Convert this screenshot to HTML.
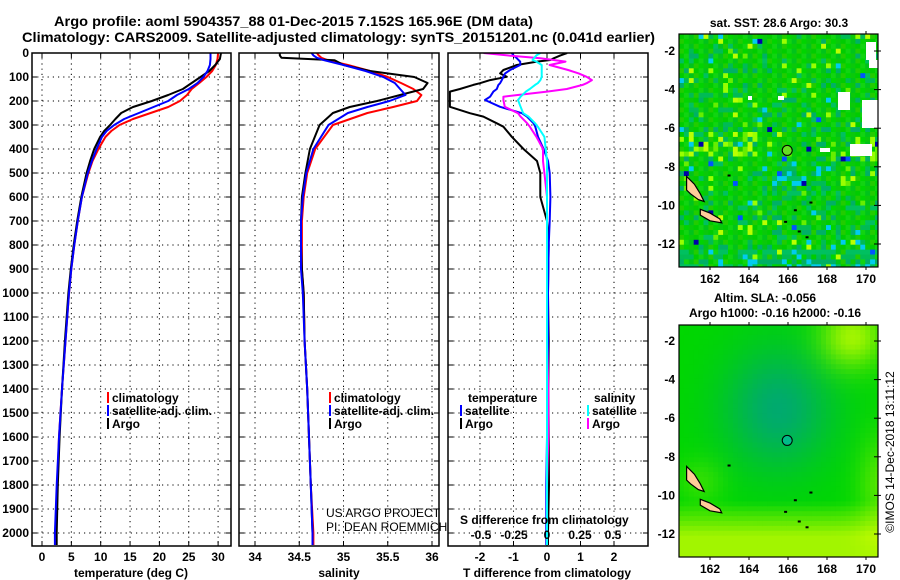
<!DOCTYPE html>
<html><head><meta charset="utf-8"><style>
html,body{margin:0;padding:0;background:#fff;}
svg{display:block;font-family:"Liberation Sans",sans-serif;}
.b{font-weight:bold;font-size:12px;}
</style></head><body>
<svg id="c" width="900" height="580" viewBox="0 0 900 580" xmlns="http://www.w3.org/2000/svg">
<text x="54" y="26" font-size="14" font-weight="bold" textLength="479" lengthAdjust="spacingAndGlyphs">Argo profile: aoml 5904357_88 01-Dec-2015 7.152S 165.96E (DM data)</text>
<text x="22" y="42" font-size="14" font-weight="bold" textLength="633" lengthAdjust="spacingAndGlyphs">Climatology: CARS2009. Satellite-adjusted climatology: synTS_20151201.nc (0.041d earlier)</text>
<g id="plots"></g>
</svg>
<script>
// ---- data ----
const depths = [0,25,50,75,100,125,150,175,200,225,250,275,300,325,350,400,450,500,600,700,800,900,1000,1200,1400,1600,1800,2000,2050];
const tempClim = [30,29.9,29.6,29,28,26.8,25.5,24.7,23.5,21.5,18.5,15.5,13.2,11.8,10.8,9.6,8.6,7.9,6.8,6.1,5.5,5.0,4.6,4.0,3.4,2.9,2.6,2.3,2.3];
const tempSat  = [28.7,28.7,28.6,28.2,27.5,26.5,25,23,21.5,19,16.5,14,12.3,11,10.2,9.3,8.5,7.8,6.8,6.1,5.5,5.0,4.6,4.0,3.4,2.9,2.5,2.2,2.2];
const tempArgo = [30.5,30.3,29.5,28.5,27,25.5,24,21.5,18.7,15.5,13.5,12.5,11.6,10.6,9.9,8.9,8.2,7.6,6.7,6,5.4,4.9,4.5,3.9,3.4,3.0,2.7,2.5,2.5];
const salDepths = [0,10,20,30,50,75,100,125,150,175,200,225,250,300,400,500,600,700,800,900,1000,1200,1400,1600,1800,2000,2050];
const salClim = [34.70,34.72,34.75,34.82,35.05,35.3,35.5,35.65,35.79,35.88,35.83,35.56,35.27,34.88,34.68,34.59,34.55,34.53,34.53,34.53,34.55,34.56,34.59,34.61,34.63,34.66,34.66];
const salSat  = [34.64,34.66,34.7,34.78,35.0,35.25,35.45,35.58,35.64,35.7,35.52,35.27,35.05,34.83,34.66,34.58,34.54,34.52,34.52,34.52,34.54,34.56,34.59,34.61,34.63,34.65,34.65];
const salArgo = [34.28,34.28,34.3,34.9,35.0,35.3,35.8,35.95,35.9,35.64,35.38,35.07,34.88,34.73,34.62,34.57,34.53,34.52,34.52,34.53,34.55,34.56,34.59,34.61,34.63,34.65,34.65];
const diffDepths = [0,10,22,29,36,50,71,85,99,113,126,133,150,161,182,196,224,251,265,293,307,349,400,450,500,600,700,800,1000,1200,1400,1600,1800,2000,2050];
const tdiffArgo = [0.6,0.4,0.2,0.1,-0.3,-0.9,-1.3,-1.4,-1.2,-1.7,-2,-2.2,-2.6,-2.9,-2.9,-2.9,-2.9,-2.3,-1.9,-1.5,-1.3,-1.05,-0.7,-0.3,-0.2,-0.2,0,0.05,0.03,0.05,0.04,0.05,0.06,0.03,0.03];
const tdiffSat  = [-1.05,-1.0,-0.9,-0.85,-0.8,-0.8,-1.1,-1.25,-1.3,-1.35,-1.4,-1.45,-1.5,-1.6,-1.7,-1.85,-1.4,-0.75,-0.6,-0.4,-0.35,-0.27,-0.1,0.03,0.08,0.1,0.08,0.05,0.03,0.03,0.02,0.0,-0.02,-0.02,-0.02];
const sdiffSat  = [-0.05,-0.08,-0.1,-0.11,-0.08,-0.04,-0.04,-0.04,-0.04,-0.05,-0.07,-0.09,-0.13,-0.16,-0.2,-0.22,-0.2,-0.18,-0.14,-0.09,-0.07,-0.02,-0.01,0,0,0,0,0,0,0,0,0,0,0,0];
const sdiffArgo = [-0.48,-0.3,-0.05,0.05,0.14,0.02,0.16,0.24,0.3,0.34,0.3,0.27,0.15,0.0,-0.33,-0.33,-0.32,-0.22,-0.2,-0.15,-0.13,-0.08,-0.03,-0.03,-0.02,0,0,0,0,0,0.01,0.01,0,0,0];
const depthTicks = [0,100,200,300,400,500,600,700,800,900,1000,1100,1200,1300,1400,1500,1600,1700,1800,1900,2000];
const tempTicks = [0,5,10,15,20,25,30];
const salTicks = [34,34.5,35,35.5,36];
const tdiffTicks = [-2,-1,0,1,2];
const sdiffTicks = [-0.5,-0.25,0,0.25,0.5];
const lonTicks = [162,164,166,168,170];
const latTicks = [-2,-4,-6,-8,-10,-12];
const floatLon = 165.96, floatLat = -7.152;

// ---- scales ----
const TOP=53, BOT=546;
const yD = d => TOP + d*0.24;
const xT = t => 42 + t*5.87;
const xS = s => 255 + (s-34)*88.5;
const xTD = v => 547 + v*33.5;
const xSD = v => 547 + v*132;
const xLon = lon => 710 + (lon-162)*19.5;
const yLat1 = lat => 51 + (-2-lat)*19.3;
const yLat2 = lat => 341 + (-2-lat)*19.3;

const NS="http://www.w3.org/2000/svg";
const root=document.getElementById('plots');
function mk(tag, attrs, parent){const e=document.createElementNS(NS,tag);for(const k in attrs)e.setAttribute(k,attrs[k]);(parent||root).appendChild(e);return e;}
function txt(x,y,s,cls,anchor,parent){const e=mk('text',{x:x,y:y,'class':cls||'b','text-anchor':anchor||'start'},parent);e.textContent=s;return e;}

function panel(name,x0,x1,xticks,xf,gridV){
  const g=mk('g',{});
  
  
  depthTicks.forEach(d=>{mk('line',{x1:x0,x2:x1,y1:yD(d),y2:yD(d),stroke:'#000','stroke-dasharray':'1.2 4','stroke-width':1},g);
    mk('line',{x1:x0,x2:x0+5,y1:yD(d),y2:yD(d),stroke:'#000'},g);mk('line',{x1:x1-5,x2:x1,y1:yD(d),y2:yD(d),stroke:'#000'},g);});
  gridV.forEach(v=>{const x=xf(v);mk('line',{x1:x,x2:x,y1:TOP,y2:BOT,stroke:'#000','stroke-dasharray':'1.2 4'},g);
    mk('line',{x1:x,x2:x,y1:BOT-5,y2:BOT,stroke:'#000'},g);mk('line',{x1:x,x2:x,y1:TOP,y2:TOP+5,stroke:'#000'},g);});
  return g;
}
function line(g,name,xs,ds,xf,color,w){
  const p=xs.map((v,i)=>xf(v).toFixed(1)+','+yD(ds[i]).toFixed(1)).join(' ');
  const e=mk('polyline',{points:p,fill:'none',stroke:color,'stroke-width':w||2,'stroke-linejoin':'round','clip-path':'url(#'+g.getAttribute('data-clip')+')'},g);
  
  
}
const defs=mk('defs',{});
[['cp1',32,231],['cp2',239,439],['cp3',448,648]].forEach(c=>{const cp=mk('clipPath',{id:c[0]},defs);mk('rect',{x:c[1],y:TOP,width:c[2]-c[1],height:BOT-TOP},cp);});

// panel 1
const p1=panel('temperature-panel',32,231,tempTicks,xT,tempTicks);p1.setAttribute('data-clip','cp1');
line(p1,'temp-climatology-line',tempClim,depths,xT,'#f00');
line(p1,'temp-argo-line',tempArgo,depths,xT,'#000');
line(p1,'temp-satellite-line',tempSat,depths,xT,'#00f');
mk('rect',{x:32,y:TOP,width:199,height:BOT-TOP,fill:'none',stroke:'#000','stroke-width':1.5},p1);
depthTicks.forEach(d=>txt(29,yD(d)+4,String(d),'b','end'));
tempTicks.forEach(t=>txt(xT(t),561,String(t),'b','middle'));
txt(131,577,'temperature (deg C)','b','middle');
// panel 2
const p2=panel('salinity-panel',239,439,salTicks,xS,salTicks);p2.setAttribute('data-clip','cp2');
line(p2,'sal-climatology-line',salClim,salDepths,xS,'#f00');
line(p2,'sal-argo-line',salArgo,salDepths,xS,'#000');
line(p2,'sal-satellite-line',salSat,salDepths,xS,'#00f');
mk('rect',{x:239,y:TOP,width:200,height:BOT-TOP,fill:'none',stroke:'#000','stroke-width':1.5},p2);
salTicks.forEach(t=>txt(xS(t),561,String(t),'b','middle'));
txt(339,577,'salinity','b','middle');
// panel 3
const p3=panel('difference-panel',448,648,tdiffTicks,xTD,tdiffTicks);p3.setAttribute('data-clip','cp3');
line(p3,'tdiff-argo-line',tdiffArgo,diffDepths,xTD,'#000');
line(p3,'tdiff-satellite-line',tdiffSat,diffDepths,xTD,'#00f');
line(p3,'sdiff-argo-line',sdiffArgo,diffDepths,xSD,'#f0f');
line(p3,'sdiff-satellite-line',sdiffSat,diffDepths,xSD,'#0ff');
mk('rect',{x:448,y:TOP,width:200,height:BOT-TOP,fill:'none',stroke:'#000','stroke-width':1.5},p3);
tdiffTicks.forEach(t=>txt(xTD(t),561,String(t),'b','middle'));
sdiffTicks.forEach(t=>txt(xSD(t),539,String(t),'b','middle'));
txt(547,577,'T difference from climatology','b','middle');
txt(460,524,'S difference from climatology','b');

// legends
function leg(x,y,c,label,name){const g=mk('g',{});
  mk('rect',{x:x,y:y-10,width:2,height:11,fill:c},g);txt(x+5,y,label,'b','start',g);}
leg(107,402,'#f00','climatology','legend-climatology');
leg(107,415,'#00f','satellite-adj. clim.','legend-satellite-adj');
leg(107,428,'#000','Argo','legend-argo');
leg(329,402,'#f00','climatology','legend2-climatology');
leg(329,415,'#00f','satellite-adj. clim.','legend2-satellite-adj');
leg(329,428,'#000','Argo','legend2-argo');
txt(468,402,'temperature');txt(594,402,'salinity');
leg(460,415,'#00f','satellite','legend-t-satellite');
leg(460,428,'#000','Argo','legend-t-argo');
leg(587,415,'#0ff','satellite','legend-s-satellite');
leg(587,428,'#f0f','Argo','legend-s-argo');
const us=txt(326,517,'US ARGO PROJECT','b');us.setAttribute('style','font-weight:normal;font-size:12px');
const pi=txt(326,531,'PI: DEAN ROEMMICH','b');pi.setAttribute('style','font-weight:normal;font-size:12px');

// ---- maps ----
function hash(i,j,s){let h=(i*374761393+j*668265263+s*982451653)|0;h=(h^(h>>>13))*1274126177|0;h=h^(h>>>16);return ((h>>>0)%10000)/10000;}
function mapPanel(name,y0,y1,yLat,sst){
  const g=mk('g',{});
  const cid='clip'+name;const cp=mk('clipPath',{id:cid},defs);mk('rect',{x:679,y:y0,width:199,height:y1-y0},cp);
  const cells=mk('g',{'clip-path':'url(#'+cid+')'},g);
  const cs=4.9;
  for(let i=0;i<41;i++)for(let j=0;j<48;j++){
    const x=679+i*cs,y=y0+j*cs;const lon=162+(x+cs/2-710)/19.5,lat=-2-(y+cs/2-(yLat(-2)))/19.3;
    let col;
    if(sst){
      const r=hash(i,j,1);let teal=0;
      if(lat<-7.6&&lat>-9.4&&lon>164.8&&lon<168.5)teal+=0.25;
      if(lat<-12.3)teal+=0.4; if(lat<-10&&lon>167)teal+=0.12;
      let yel=0; if(lat>-7.4&&lat<-6&&lon<164.5)yel+=0.3; if(lat>-7.7&&lat<-6.8&&lon>167.5)yel+=0.35; if(lat>-5&&lat<-3&&lon<164&&lon>162.5)yel+=0.12;
      if(r<0.005)col='#0000aa';else if(r<0.012)col='#0055ff';else if(r<0.025+teal*0.25)col='#00ccee';
      else if(r<0.17+teal)col=['#00bb55','#00b066','#00c060'][j%3];
      else if(r<0.21+teal+yel)col=['#99ff00','#66ee00','#bbff00'][i%3];
      else col=['#00cc00','#11d411','#00c41a','#22cc00','#00d400','#0ac80a'][(i*7+j*3)%6];
    }else{
      const a=Math.exp(-(((lon-165.5)/2.8)**2+((lat+5.5)/3.2)**2));
      const yb=Math.exp(-(((lon-169.3)/1.6)**2+((lat+1.8)/1.6)**2))*0.85+Math.min(1,Math.max(0,(-lat-10.3)/1.8))*0.85+Math.exp(-(((lon-170.8)/1.2)**2+((lat+9.5)/2.5)**2))*0.45+Math.exp(-(((lon-161.5)/1.2)**2+((lat+9.3)/1.2)**2))*0.25;
      const t=Math.min(1,Math.max(0,yb));
      const tt=a*(1-t);
      const r=Math.round(t*190),gg=Math.round(215+t*35-tt*45),b=Math.round(tt*110);
      col='rgb('+r+','+gg+','+b+')';
    }
    mk('rect',{x:x.toFixed(1),y:y.toFixed(1),width:cs+0.5,height:cs+0.5,fill:col},cells);
  }
  if(sst){[[866,42,10,18],[869,60,10,8],[838,92,12,18],[862,100,16,28],[850,144,22,12],[820,148,10,4],[778,96,6,4],[748,96,4,4]].forEach(w=>mk('rect',{x:w[0],y:y0-34+w[1],width:w[2],height:w[3],fill:'#fff'},cells));}
  // islands
  const isl=[[[160.8,-8.5],[161.2,-8.9],[161.5,-9.4],[161.7,-9.8],[161.4,-9.7],[161,-9.4],[160.8,-9.2]],[[161.5,-10.2],[162,-10.4],[162.5,-10.7],[162.6,-10.9],[162,-10.8],[161.5,-10.5]]];
  isl.forEach((pts,k)=>{const e=mk('polygon',{points:pts.map(p=>xLon(p[0]).toFixed(1)+','+yLat(p[1]).toFixed(1)).join(' '),fill:'#ffcc99',stroke:'#000','stroke-width':1.2},cells);
    });
  [[165.8,-10.8],[166.9,-11.6],[162.9,-8.4],[167.1,-9.8],[166.3,-10.2],[166.5,-11.3]].forEach(p=>mk('rect',{x:xLon(p[0]),y:yLat(p[1]),width:3,height:2,fill:'#000'},cells));
  const fl=mk('circle',{cx:xLon(floatLon),cy:yLat(floatLat),r:5,fill:sst?'#66dd22':'#00bb88',stroke:'#000','stroke-width':1},g);
  
  
  mk('rect',{x:679,y:y0,width:199,height:y1-y0,fill:'none',stroke:'#000','stroke-width':1.2},g);
  latTicks.forEach(l=>{const y=yLat(l);mk('line',{x1:874,x2:881,y1:y,y2:y,stroke:'#000'},g);txt(675,y+4,String(l),'b','end',g);});
  lonTicks.forEach(l=>{const x=xLon(l);mk('line',{x1:x,x2:x,y1:y0-3,y2:y0,stroke:'#000'},g);mk('line',{x1:x,x2:x,y1:y1,y2:y1+3,stroke:'#000'},g);txt(x,y1+16,String(l),'b','middle',g);});
}
mapPanel('sst-map',34,267,yLat1,true);
mapPanel('sla-map',325,557,yLat2,false);
txt(779,27,'sat. SST: 28.6 Argo: 30.3','b','middle');
txt(765,302,'Altim. SLA: -0.056','b','middle');
txt(775,317,'Argo h1000: -0.16 h2000: -0.16','b','middle');
const cr=txt(0,0,'\u00a9IMOS 14-Dec-2018 13:11:12','b','middle');
cr.setAttribute('transform','translate(894,452) rotate(-90)');cr.setAttribute('style','font-weight:normal;font-size:12px');
</script>
</body></html>
